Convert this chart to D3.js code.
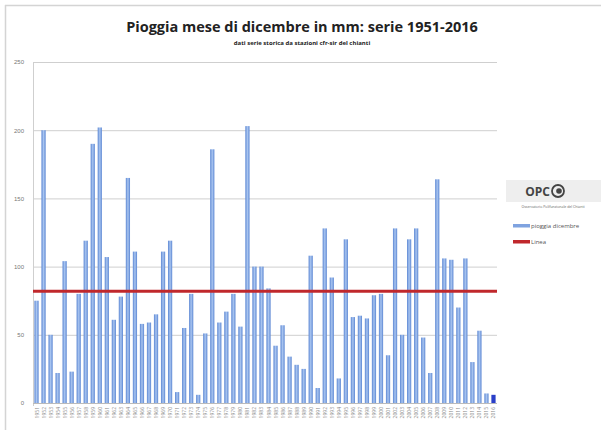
<!DOCTYPE html>
<html>
<head>
<meta charset="utf-8">
<script src="https://cdn.jsdelivr.net/npm/d3@7"></script>
<style>
  body { margin: 0; background: #fff; font-family: "Open Sans", "DejaVu Sans", sans-serif; }
</style>
</head>
<body>
<svg id="chart" width="601" height="430"></svg>
<script>
// anni 1951-2016
var years = d3.range(1951, 2017);
// pioggia di dicembre in mm
var rain = [75, 200, 50, 22, 104, 23, 80, 119, 190, 202, 107, 61, 78, 165, 111, 58, 59, 65, 111, 119,
            8, 55, 80, 6, 51, 186, 59, 67, 80, 56, 203, 100, 100, 84, 42, 57, 34, 28, 25, 108,
            11, 128, 92, 18, 120, 63, 64, 62, 79, 80, 35, 128, 50, 120, 128, 48, 22, 164, 106, 105,
            70, 106, 30, 53, 7, 6];
var lineValue = 82;
var yTicks = [0, 50, 100, 150, 200, 250];
var legendLabels = ["pioggia dicembre", "Linea"];

var svg = d3.select("#chart");

// cornice
svg.append("line").attr("x1", 5).attr("x2", 601).attr("y1", 5.5).attr("y2", 5.5)
    .attr("stroke", "#d4d4d4").attr("stroke-width", 1.5);
svg.append("line").attr("x1", 5.5).attr("x2", 5.5).attr("y1", 5).attr("y2", 430)
    .attr("stroke", "#d4d4d4").attr("stroke-width", 1.5);

var margin = {left: 33, right: 104, top: 62, bottom: 27};
var W = 601, H = 430;

var x = d3.scaleBand()
    .domain(years)
    .range([margin.left, W - margin.right])
    .paddingInner(0.4)
    .paddingOuter(0.2);

var y = d3.scaleLinear()
    .domain([0, 250])
    .range([H - margin.bottom, margin.top]);

// gradiente barre
var defs = svg.append("defs");
var grad = defs.append("linearGradient").attr("id", "barGrad")
    .attr("x1", "0%").attr("x2", "100%").attr("y1", "0%").attr("y2", "0%");
grad.append("stop").attr("offset", "0%").attr("stop-color", "#5b86d3");
grad.append("stop").attr("offset", "50%").attr("stop-color", "#a9c5f0");
grad.append("stop").attr("offset", "100%").attr("stop-color", "#5b86d3");

// griglia
var yAxis = d3.axisLeft(y).tickValues(yTicks).tickSize(-(W - margin.right - margin.left)).tickPadding(9);
var gy = svg.append("g").attr("transform", `translate(${margin.left},0)`).call(yAxis);
gy.select(".domain").remove();
gy.selectAll(".tick line").attr("stroke", "#cfcfcf").attr("stroke-width", 1);
gy.selectAll(".tick text").attr("fill", "#777").style("font-size", "6px");

// asse verticale
svg.append("line")
    .attr("x1", margin.left + 0.5).attr("x2", margin.left + 0.5)
    .attr("y1", y(250)).attr("y2", y(0) + 3)
    .attr("stroke", "#cfcfcf");

// barre
svg.append("g").selectAll("rect")
    .data(rain)
    .join("rect")
    .attr("x", (d, i) => x(years[i]))
    .attr("y", d => y(d))
    .attr("width", x.bandwidth())
    .attr("height", d => y(0) - y(d))
    .attr("fill", (d, i) => i === rain.length - 1 ? "#2a3fc8" : "url(#barGrad)");

// asse x
svg.append("line")
    .attr("x1", margin.left).attr("x2", W - margin.right)
    .attr("y1", y(0) + 0.5).attr("y2", y(0) + 0.5)
    .attr("stroke", "#bbb");

svg.append("g").selectAll("text")
    .data(years)
    .join("text")
    .attr("transform", d => `translate(${x(d) + x.bandwidth() / 2 + 2},${y(0) + 4}) rotate(-90)`)
    .attr("text-anchor", "end")
    .attr("fill", "#888")
    .style("font-size", "5px")
    .text(d => d);

// linea media
svg.append("line")
    .attr("x1", margin.left).attr("x2", W - margin.right)
    .attr("y1", y(lineValue)).attr("y2", y(lineValue))
    .attr("stroke", "#c0282c").attr("stroke-width", 3);

// titolo
svg.append("text")
    .attr("x", 302).attr("y", 32)
    .attr("text-anchor", "middle")
    .attr("fill", "#222")
    .style("font-size", "14.5px").style("font-weight", "bold")
    .text("Pioggia mese di dicembre in mm: serie 1951-2016");
svg.append("text")
    .attr("x", 302).attr("y", 45)
    .attr("text-anchor", "middle")
    .attr("fill", "#222")
    .style("font-size", "6px").style("font-weight", "bold")
    .text("dati serie storica da stazioni cfr-sir del chianti");

// logo
var logo = svg.append("g").attr("transform", "translate(506,180)");
logo.append("rect").attr("width", 95).attr("height", 22).attr("fill", "#eeeeee");
logo.append("text").attr("x", 44).attr("y", 16).attr("text-anchor", "end")
    .attr("fill", "#444").style("font-size", "12px").style("font-weight", "bold").text("OPC");
logo.append("circle").attr("cx", 52).attr("cy", 11).attr("r", 6)
    .attr("fill", "none").attr("stroke", "#444").attr("stroke-width", 1.8);
logo.append("circle").attr("cx", 53).attr("cy", 11).attr("r", 2.8).attr("fill", "#444");
logo.append("text").attr("x", 47).attr("y", 28).attr("text-anchor", "middle")
    .attr("fill", "#666").style("font-size", "3.5px").text("Osservatorio Polifunzionale del Chianti");

// legenda
var leg = svg.append("g").attr("transform", "translate(513,226)")
    .selectAll("g").data(legendLabels).join("g")
    .attr("transform", (d, i) => `translate(0,${i * 16})`);
leg.append("rect").attr("y", -2).attr("width", 17).attr("height", 3.5)
    .attr("fill", (d, i) => i === 0 ? "#7fa3e0" : "#c0282c");
leg.append("text").attr("x", 18).attr("y", 2)
    .attr("fill", "#555").style("font-size", "6px").text(d => d);
</script>
</body>
</html>
